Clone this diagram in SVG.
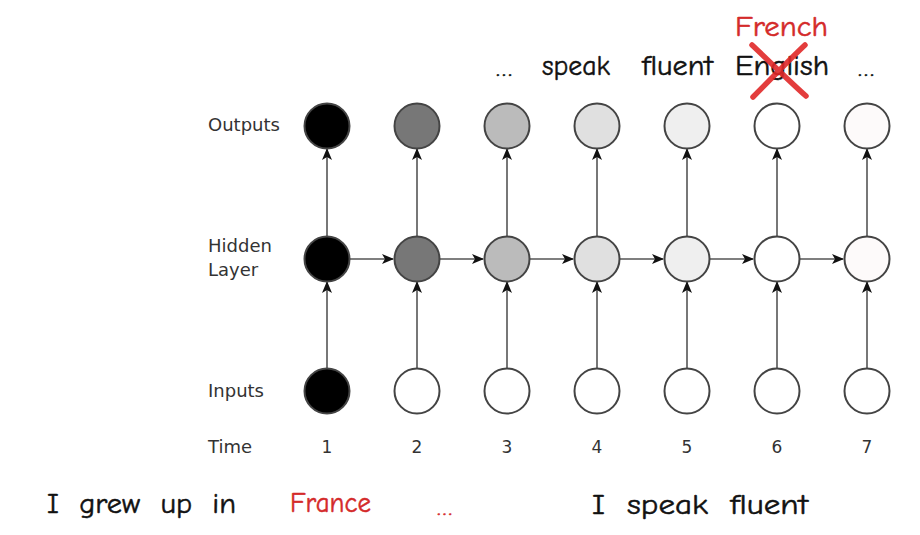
<svg xmlns="http://www.w3.org/2000/svg" width="920" height="535" viewBox="0 0 920 535">
<style>
.lbl{font-family:"DejaVu Sans",sans-serif;font-size:18px;fill:#333}
.num{font-family:"DejaVu Sans",sans-serif;font-size:17px;fill:#333;text-anchor:middle}
.hand{font-family:"Comic Sans MS","Comic Neue","Noto Sans",sans-serif;font-size:29px;fill:#111;stroke:#111;stroke-width:0.5}
.red{fill:#d42a2a;stroke:#d42a2a}
.node{stroke:#444;stroke-width:2}
.edge{stroke:#555;stroke-width:1.6;fill:none;marker-end:url(#ah)}
</style>
<defs>
<marker id="ah" viewBox="0 0 12 10" refX="11" refY="5" markerWidth="12" markerHeight="10" markerUnits="userSpaceOnUse" orient="auto">
<path d="M0,0 L12,5 L0,10 L3,5 z" fill="#111"/>
</marker>
</defs>
<rect width="920" height="535" fill="#fff"/>

<g id="labels">
<text class="lbl" x="208" y="131">Outputs</text>
<text class="lbl" x="208" y="252">Hidden</text>
<text class="lbl" x="208" y="276">Layer</text>
<text class="lbl" x="208" y="397">Inputs</text>
<text class="lbl" x="208" y="453">Time</text>
</g>

<g id="time">
<text class="num" x="327" y="453">1</text>
<text class="num" x="417" y="453">2</text>
<text class="num" x="507" y="453">3</text>
<text class="num" x="597" y="453">4</text>
<text class="num" x="687" y="453">5</text>
<text class="num" x="777" y="453">6</text>
<text class="num" x="867" y="453">7</text>
</g>

<g id="connectors">
<line class="edge" x1="327" y1="368" x2="327" y2="282"/>
<line class="edge" x1="417" y1="368" x2="417" y2="282"/>
<line class="edge" x1="507" y1="368" x2="507" y2="282"/>
<line class="edge" x1="597" y1="368" x2="597" y2="282"/>
<line class="edge" x1="687" y1="368" x2="687" y2="282"/>
<line class="edge" x1="777" y1="368" x2="777" y2="282"/>
<line class="edge" x1="867" y1="368" x2="867" y2="282"/>
<line class="edge" x1="327" y1="236" x2="327" y2="149"/>
<line class="edge" x1="417" y1="236" x2="417" y2="149"/>
<line class="edge" x1="507" y1="236" x2="507" y2="149"/>
<line class="edge" x1="597" y1="236" x2="597" y2="149"/>
<line class="edge" x1="687" y1="236" x2="687" y2="149"/>
<line class="edge" x1="777" y1="236" x2="777" y2="149"/>
<line class="edge" x1="867" y1="236" x2="867" y2="149"/>
<line class="edge" x1="350" y1="259" x2="393" y2="259"/>
<line class="edge" x1="440" y1="259" x2="483" y2="259"/>
<line class="edge" x1="530" y1="259" x2="573" y2="259"/>
<line class="edge" x1="620" y1="259" x2="663" y2="259"/>
<line class="edge" x1="710" y1="259" x2="753" y2="259"/>
<line class="edge" x1="800" y1="259" x2="843" y2="259"/>
</g>

<g id="out1"><circle class="node" cx="327" cy="126" r="22.5" fill="#000"/></g>
<g id="out2"><circle class="node" cx="417" cy="126" r="22.5" fill="#777"/></g>
<g id="out3"><circle class="node" cx="507" cy="126" r="22.5" fill="#bbb"/></g>
<g id="out4"><circle class="node" cx="597" cy="126" r="22.5" fill="#e0e0e0"/></g>
<g id="out5"><circle class="node" cx="687" cy="126" r="22.5" fill="#efefef"/></g>
<g id="out6"><circle class="node" cx="777" cy="126" r="22.5" fill="#fff"/></g>
<g id="out7"><circle class="node" cx="867" cy="126" r="22.5" fill="#fdfafa"/></g>

<g id="hid1"><circle class="node" cx="327" cy="259" r="22.5" fill="#000"/></g>
<g id="hid2"><circle class="node" cx="417" cy="259" r="22.5" fill="#777"/></g>
<g id="hid3"><circle class="node" cx="507" cy="259" r="22.5" fill="#bbb"/></g>
<g id="hid4"><circle class="node" cx="597" cy="259" r="22.5" fill="#e0e0e0"/></g>
<g id="hid5"><circle class="node" cx="687" cy="259" r="22.5" fill="#efefef"/></g>
<g id="hid6"><circle class="node" cx="777" cy="259" r="22.5" fill="#fff"/></g>
<g id="hid7"><circle class="node" cx="867" cy="259" r="22.5" fill="#fdfafa"/></g>

<g id="in1"><circle class="node" cx="327" cy="391" r="22.5" fill="#000"/></g>
<g id="in2"><circle class="node" cx="417" cy="391" r="22.5" fill="#fff"/></g>
<g id="in3"><circle class="node" cx="507" cy="391" r="22.5" fill="#fff"/></g>
<g id="in4"><circle class="node" cx="597" cy="391" r="22.5" fill="#fff"/></g>
<g id="in5"><circle class="node" cx="687" cy="391" r="22.5" fill="#fff"/></g>
<g id="in6"><circle class="node" cx="777" cy="391" r="22.5" fill="#fff"/></g>
<g id="in7"><circle class="node" cx="867" cy="391" r="22.5" fill="#fff"/></g>

<g id="top-words">
<text class="hand" x="496" y="76" textLength="16" lengthAdjust="spacingAndGlyphs" style="font-size:20px">…</text>
<text class="hand" x="542" y="75" textLength="68" lengthAdjust="spacingAndGlyphs">speak</text>
<text class="hand" x="642" y="75" textLength="71" lengthAdjust="spacingAndGlyphs">fluent</text>
<text class="hand" x="735" y="75" textLength="94" lengthAdjust="spacingAndGlyphs">English</text>
<text class="hand" x="858" y="76" textLength="16" lengthAdjust="spacingAndGlyphs" style="font-size:20px">…</text>
<text class="hand red" x="735" y="36" textLength="93" lengthAdjust="spacingAndGlyphs">French</text>
<path d="M752,45 C766,58 788,80 806,96 M805,45 C791,58 772,78 753,97" stroke="#e02828" stroke-width="5.5" stroke-linecap="round" fill="none" opacity="0.9"/>
</g>

<g id="bottom-words">
<text class="hand" x="47" y="513" textLength="189" lengthAdjust="spacingAndGlyphs" xml:space="preserve">I  grew  up  in</text>
<text class="hand red" x="290" y="512" textLength="81" lengthAdjust="spacingAndGlyphs">France</text>
<text class="hand red" x="437" y="515" textLength="15" lengthAdjust="spacingAndGlyphs" style="font-size:17px">…</text>
<text class="hand" x="592" y="514" textLength="216" lengthAdjust="spacingAndGlyphs" xml:space="preserve">I  speak  fluent</text>
</g>
</svg>
